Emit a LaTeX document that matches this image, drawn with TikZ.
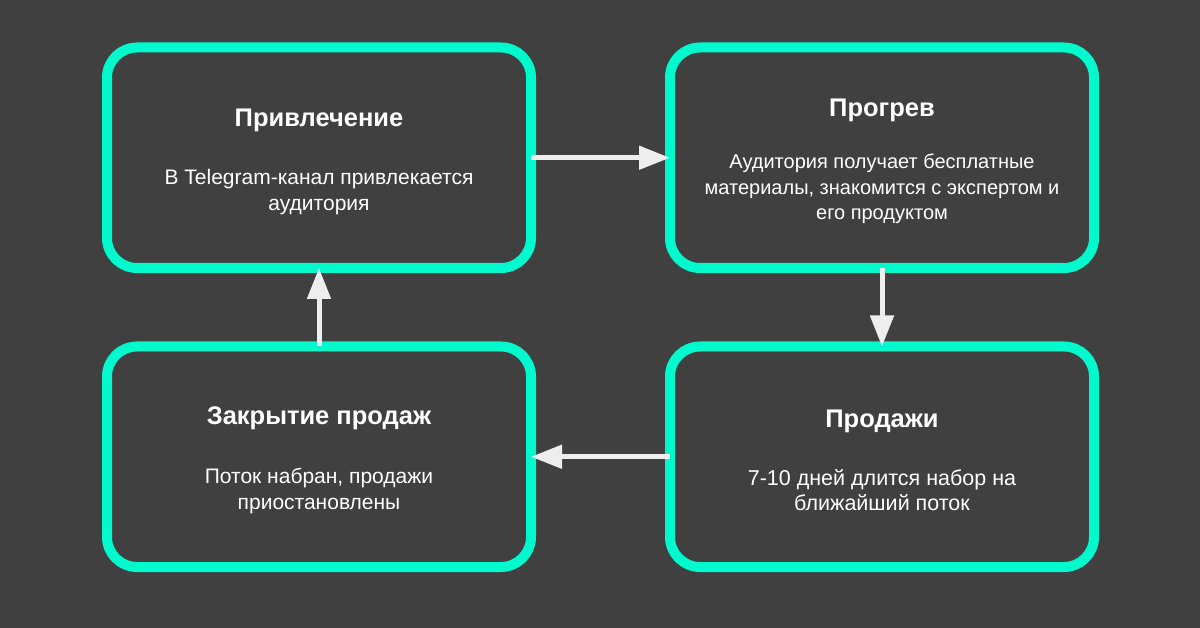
\documentclass[tikz,border=0pt]{standalone}
\usepackage{fontspec}
\setmainfont{Liberation Sans}
\usetikzlibrary{positioning,arrows.meta}
\definecolor{bg}{HTML}{404040}
\definecolor{mint}{HTML}{00F9CD}
\definecolor{arrowgray}{HTML}{EEEEEE}
\newcommand{\heading}[1]{{\fontsize{25.5}{28}\selectfont\bfseries\rule{0pt}{25pt}#1}}

\begin{document}
\begin{tikzpicture}[x=1pt, y=-1pt, node distance=78.5pt and 139pt,
      every node/.append style={text=white, font=\fontsize{21}{26}\selectfont},
      flow/.style={-{Triangle[length=31pt,width=23pt]}, line width=5pt, draw=arrowgray}]
    \tikzstyle{card} = [draw=mint, line width=10pt, rounded corners=30pt,
      minimum width=424pt, minimum height=220.5pt, align=center,
      inner sep=0pt, outer sep=0pt]
    \fill[bg] (0,0) rectangle (1200,628);
    \useasboundingbox (0,0) rectangle (1200,628);
    % four stages of the funnel
    \node (attract) [card] at (319,157.75)
      {\heading{Привлечение}\\[32pt] В Telegram-канал привлекается\\ аудитория};
    \node (warm) [card, right=of attract, font=\fontsize{20}{25.5}\selectfont]
      {\heading{Прогрев}\\[27pt] Аудитория получает бесплатные\\ материалы, знакомится с экспертом и\\ его продуктом};
    \node (sales) [card, below=of warm, font=\fontsize{21.5}{25}\selectfont]
      {\heading{Продажи}\\[33pt] 7-10 дней длится набор на\\ ближайший поток};
    \node (close) [card, below=of attract]
      {\heading{Закрытие продаж}\\[33pt] Поток набран, продажи\\ приостановлены};
    % the cycle
    \draw [flow] (attract) -- (warm);
    \draw [flow] (warm) -- (sales);
    \draw [flow] (sales) -- (close);
    \draw [flow] (close) -- (attract);
\end{tikzpicture}
\end{document}
